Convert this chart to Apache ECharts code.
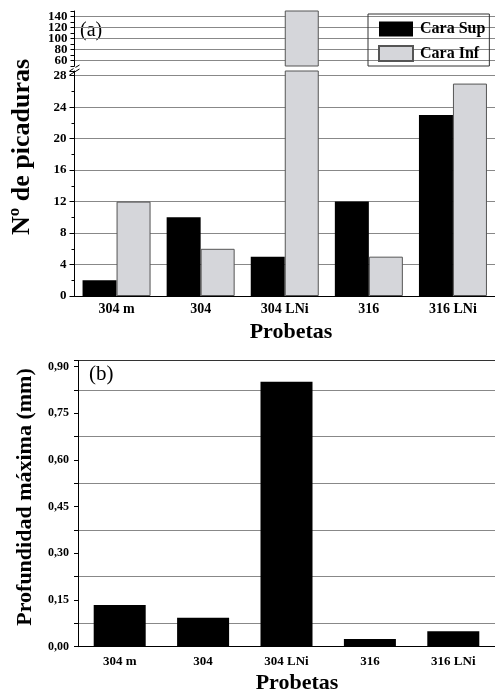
<!DOCTYPE html>
<html>
<head>
<meta charset="utf-8">
<script src="https://cdn.jsdelivr.net/npm/echarts@6/dist/echarts.min.js"></script>
<style>
  html, body { margin: 0; padding: 0; background: #fff; }
  #chart { width: 495px; height: 691px; }
</style>
</head>
<body>
<div id="chart"></div>
<script>
const categories = ["304 m", "304", "304 LNi", "316", "316 LNi"];
const caraSup = [2, 10, 5, 12, 23];
const caraInf = [12, 6, 160, 5, 27];
const profundidad = [0.134, 0.093, 0.852, 0.025, 0.05];

// broken axis of panel (a): upper part 50..150, lower part 0..28.6
const topMin = 50, topMax = 150;
const lowMax = 28.6;

const FONT = "Liberation Serif";
const GRID_A_LEFT = 74.5, GRID_A_WIDTH = 424;
const GRAY = "#d5d6da";
const LINE = "#888";

const topOnly = arr => arr.map(v => (v > topMin ? v : "-"));

// (b) split lines only at the half steps, top one is the frame
const bColors = [];
for (let i = 0; i < 14; i++) bColors.push(i % 2 ? LINE : "rgba(0,0,0,0)");
bColors[13] = "#333";

const labelFont = { fontFamily: FONT, fontWeight: "bold", color: "#000" };

const chart = echarts.init(document.getElementById("chart"));
chart.setOption({
  animation: false,
  grid: [
    { left: GRID_A_LEFT, top: 11, width: GRID_A_WIDTH, height: 55 },
    { left: GRID_A_LEFT, top: 71, width: GRID_A_WIDTH, height: 225 },
    { left: 78, top: 360.5, width: 429, height: 286.2 },
  ],
  legend: {
    orient: "vertical",
    left: 368,
    top: 14,
    padding: [7, 4, 4, 10],
    itemGap: 8,
    itemWidth: 34,
    itemHeight: 15,
    icon: "rect",
    borderColor: "#333",
    borderWidth: 1,
    borderRadius: 0,
    textStyle: { fontFamily: FONT, fontWeight: "bold", fontSize: 16, color: "#000", padding: [0, 0, 0, 2] },
    data: ["Cara Sup", "Cara Inf"],
  },
  xAxis: [
    { type: "category", gridIndex: 0, data: categories, show: false },
    {
      type: "category",
      gridIndex: 1,
      data: categories,
      axisLine: { lineStyle: { color: "#000" } },
      axisTick: { length: 4, lineStyle: { color: "#000" } },
      axisLabel: { ...labelFont, fontSize: 14, margin: 6 },
    },
    {
      type: "category",
      gridIndex: 2,
      data: categories,
      axisLine: { lineStyle: { color: "#000" } },
      axisTick: { length: 4, lineStyle: { color: "#000" } },
      axisLabel: { ...labelFont, fontSize: 13, margin: 8 },
    },
  ],
  yAxis: [
    {
      type: "value",
      gridIndex: 0,
      min: topMin,
      max: topMax,
      interval: 10,
      axisLine: { show: true, lineStyle: { color: "#000" } },
      axisTick: { show: true, length: 4, lineStyle: { color: "#000" } },
      axisLabel: {
        ...labelFont,
        fontSize: 13,
        margin: 7,
        formatter: v => (v % 20 === 0 && v >= 60 && v <= 140 ? String(v) : ""),
      },
      splitLine: { show: true, lineStyle: { color: ["rgba(0,0,0,0)", LINE], width: 1 } },
    },
    {
      type: "value",
      gridIndex: 1,
      min: 0,
      max: lowMax,
      interval: 4,
      axisLine: { show: true, lineStyle: { color: "#000" } },
      axisTick: { show: true, length: 5, lineStyle: { color: "#000" } },
      minorTick: { show: true, splitNumber: 2, length: 3, lineStyle: { color: "#000" } },
      axisLabel: { ...labelFont, fontSize: 13, margin: 8, showMaxLabel: false },
      splitLine: { show: true, showMinLine: false, showMaxLine: false, lineStyle: { color: LINE, width: 1 } },
    },
    {
      type: "value",
      gridIndex: 2,
      min: 0,
      max: 0.92,
      interval: 0.075,
      axisLine: { show: true, lineStyle: { color: "#000" } },
      axisTick: { show: true, length: 4, lineStyle: { color: "#000" } },
      axisLabel: {
        ...labelFont,
        fontSize: 12,
        margin: 9,
        formatter: v => {
          const k = v / 0.15;
          return Math.abs(k - Math.round(k)) < 1e-6 ? v.toFixed(2).replace(".", ",") : "";
        },
      },
      splitLine: { show: true, lineStyle: { color: bColors, width: 1 } },
    },
  ],
  series: [
    {
      name: "Cara Sup", type: "bar", xAxisIndex: 0, yAxisIndex: 0,
      barWidth: 34, barGap: 0, data: topOnly(caraSup),
      itemStyle: { color: "#000" },
    },
    {
      name: "Cara Inf", type: "bar", xAxisIndex: 0, yAxisIndex: 0,
      barWidth: 34, barGap: 0, data: topOnly(caraInf),
      itemStyle: { color: GRAY, borderColor: "#555", borderWidth: 1 },
    },
    {
      name: "Cara Sup", type: "bar", xAxisIndex: 1, yAxisIndex: 1,
      barWidth: 34, barGap: 0, data: caraSup,
      itemStyle: { color: "#000" },
    },
    {
      name: "Cara Inf", type: "bar", xAxisIndex: 1, yAxisIndex: 1,
      barWidth: 34, barGap: 0, data: caraInf,
      itemStyle: { color: GRAY, borderColor: "#555", borderWidth: 1 },
    },
    {
      name: "Profundidad", type: "bar", xAxisIndex: 2, yAxisIndex: 2,
      barWidth: 52, data: profundidad,
      itemStyle: { color: "#000" },
    },
  ],
  graphic: [
    // break marks on the left axis of (a)
    { type: "line", shape: { x1: GRID_A_LEFT - 5, y1: 71, x2: GRID_A_LEFT + 5, y2: 65 }, style: { stroke: "#000", lineWidth: 1 } },
    { type: "line", shape: { x1: GRID_A_LEFT - 5, y1: 75, x2: GRID_A_LEFT + 5, y2: 69 }, style: { stroke: "#000", lineWidth: 1 } },
    { type: "rect", shape: { x: GRID_A_LEFT - 1, y: 67, width: 2, height: 4 }, style: { fill: "#fff" } },
    { type: "text", left: 80, top: 21, style: { text: "(a)", font: "20px " + FONT, fill: "#000" } },
    { type: "text", left: 89, top: 364, style: { text: "(b)", font: "21px " + FONT, fill: "#000" } },
    {
      type: "text", x: 22, y: 147, rotation: Math.PI / 2,
      style: { text: "Nº de picaduras", font: "bold 26px " + FONT, fill: "#000", align: "center", verticalAlign: "middle" },
    },
    {
      type: "text", x: 25, y: 497, rotation: Math.PI / 2,
      style: { text: "Profundidad máxima (mm)", font: "bold 22px " + FONT, fill: "#000", align: "center", verticalAlign: "middle" },
    },
    {
      type: "text", x: 291, y: 332,
      style: { text: "Probetas", font: "bold 22px " + FONT, fill: "#000", align: "center", verticalAlign: "middle" },
    },
    {
      type: "text", x: 297, y: 683,
      style: { text: "Probetas", font: "bold 22px " + FONT, fill: "#000", align: "center", verticalAlign: "middle" },
    },
  ],
});
</script>
</body>
</html>
